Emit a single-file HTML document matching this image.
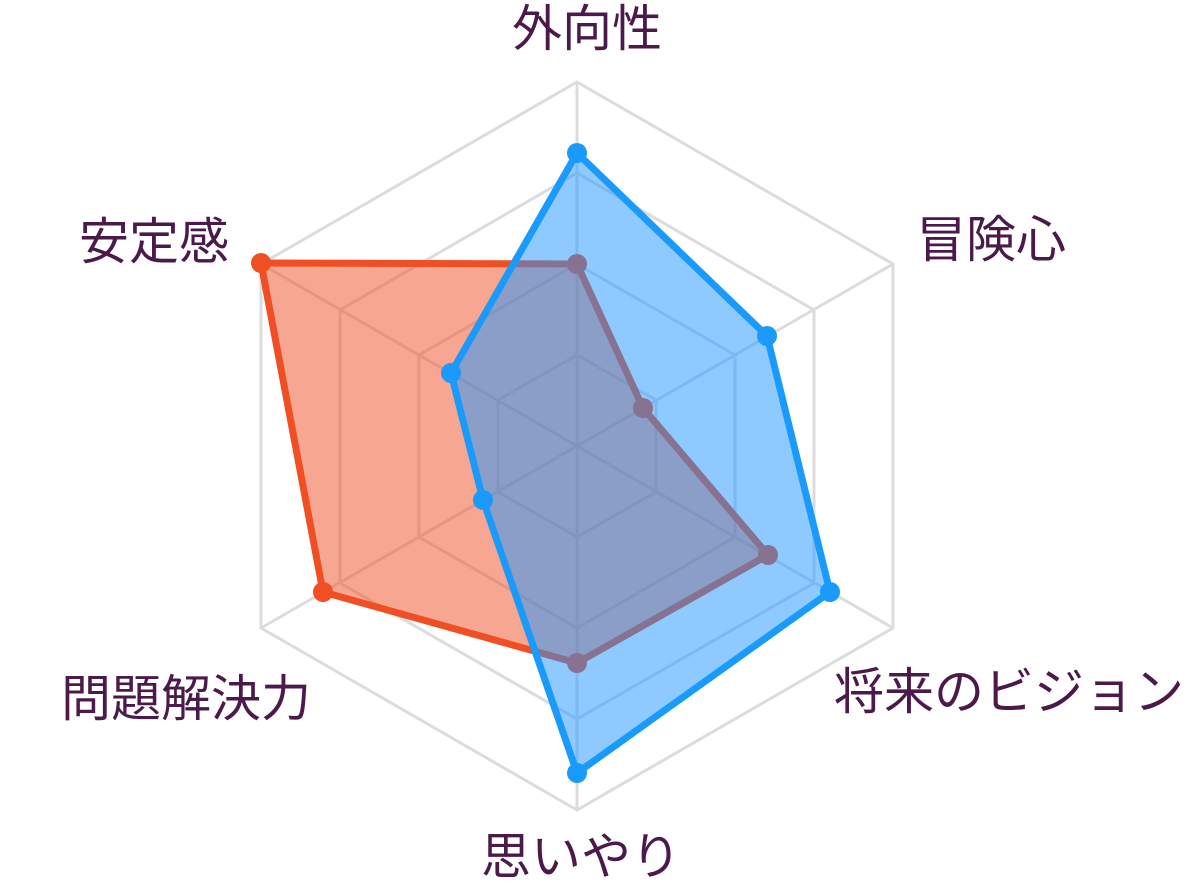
<!DOCTYPE html>
<html><head><meta charset="utf-8"><style>
html,body{margin:0;padding:0;background:#fff;}
svg{display:block}
text{font-family:"Liberation Sans","Noto Sans CJK JP",sans-serif;font-size:50px;fill:#4b1a4b;}
</style></head><body>
<svg width="1192" height="891" viewBox="0 0 1192 891" xmlns="http://www.w3.org/2000/svg">
<g fill="none" stroke="#dcdcdc" stroke-width="3">
<polygon points="577,82 893,264 893,628 577,810 261,628 261,264"/>
<polygon points="577,173 814,310 814,583 577,719 340,583 340,310"/>
<polygon points="577,264 735,355 735,537 577,628 419,537 419,355"/>
<polygon points="577,355 656,400 656,492 577,537 498,492 498,400"/>
<line x1="577" y1="82" x2="577" y2="810"/>
<line x1="261" y1="264" x2="893" y2="628"/>
<line x1="893" y1="264" x2="261" y2="628"/>
</g>
<polygon points="577,264 643,408 768,555 577,663 323,592 261,263" fill="rgb(240,78,35)" fill-opacity="0.5" stroke="#f04e23" stroke-width="7" stroke-linejoin="round"/>
<g fill="#f04e23">
<circle cx="577" cy="264" r="10"/><circle cx="643" cy="408" r="10"/><circle cx="768" cy="555" r="10"/><circle cx="577" cy="663" r="10"/><circle cx="323" cy="592" r="10"/><circle cx="261" cy="263" r="10"/>
</g>
<polygon points="577,153 767,336 830,592 577,773 483,500 451,373" fill="rgb(30,150,255)" fill-opacity="0.5" stroke="none"/>
<polygon points="577,153 767,336 830,592 577,773 483,500 451,373" fill="none" stroke="#1a9bfc" stroke-width="7" stroke-linejoin="round"/>
<g fill="#1a9bfc">
<circle cx="577" cy="153" r="10"/><circle cx="767" cy="336" r="10"/><circle cx="830" cy="592" r="10"/><circle cx="577" cy="773" r="10"/><circle cx="483" cy="500" r="10"/><circle cx="451" cy="373" r="10"/>
</g>
<text x="587" y="46" text-anchor="middle">外向性</text>
<text x="916" y="257">冒険心</text>
<text x="834" y="709">将来のビジョン</text>
<text x="581" y="874" text-anchor="middle">思いやり</text>
<text x="311" y="716" text-anchor="end">問題解決力</text>
<text x="229" y="259" text-anchor="end">安定感</text>
</svg>
</body></html>
